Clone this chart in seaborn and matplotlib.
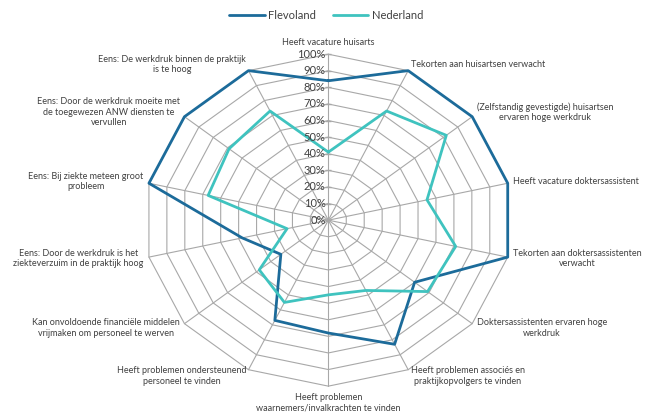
import numpy as np
import pandas as pd
import matplotlib.pyplot as plt
import seaborn as sns

# ---------------------------------------------------
# DATA
# ---------------------------------------------------

categories = [
    "Heeft vacature huisarts",
    "Tekorten aan huisartsen verwacht",
    "(Zelfstandig gevestigde) huisartsen\nervaren hoge werkdruk",
    "Heeft vacature doktersassistent",
    "Tekorten aan doktersassistenten\nverwacht",
    "Doktersassistenten ervaren hoge\nwerkdruk",
    "Heeft problemen associés en\npraktijkopvolgers te vinden",
    "Heeft problemen\nwaarnemers/invalkrachten te vinden",
    "Heeft problemen ondersteunend\npersoneel te vinden",
    "Kan onvoldoende financiële middelen\nvrijmaken om personeel te werven",
    "Eens: Door de werkdruk is het\nziekteverzuim in de praktijk hoog",
    "Eens: Bij ziekte meteen groot\nprobleem",
    "Eens: Door de werkdruk moeite met\nde toegewezen ANW diensten te\nvervullen",
    "Eens: De werkdruk binnen de praktijk\nis te hoog",
]

flevoland = [84, 100, 100, 100, 100, 60, 83, 68, 67, 33, 48, 100, 100, 100]
nederland = [41, 73, 82, 55, 71, 69, 47, 45, 55, 48, 23, 67, 69, 73]

series_names = ["Flevoland", "Nederland"]
tick_values = [0, 10, 20, 30, 40, 50, 60, 70, 80, 90, 100]
tick_labels = [f"{v}%" for v in tick_values]

# ---------------------------------------------------
# STYLE
# ---------------------------------------------------

sns.set_style("white")
plt.rcParams["font.family"] = ["Lato", "DejaVu Sans"]

colors = {"Flevoland": "#1C6B9A", "Nederland": "#3FC3BF"}
grid_color = "#A8A8A8"
text_color = "#404040"

n = len(categories)
angles = np.linspace(0, 2 * np.pi, n, endpoint=False)

rows = []
for name, values in zip(series_names, [flevoland, nederland]):
    for i in range(n + 1):
        rows.append({
            "angle": angles[i % n] if i < n else 2 * np.pi,
            "value": values[i % n],
            "series": name,
        })
df = pd.DataFrame(rows)

# ---------------------------------------------------
# RADAR CHART
# ---------------------------------------------------

fig = plt.figure(figsize=(6.56, 4.17), dpi=100)
ax = fig.add_axes([0.22, 0.074, 0.561, 0.796], projection="polar")
ax.set_aspect("auto")
ax.set_theta_zero_location("N")
ax.set_theta_direction(-1)

# polygon grid
closed = np.append(angles, angles[0])
for t in tick_values[1:]:
    ax.plot(closed, [t] * (n + 1), color=grid_color, lw=0.8,
            zorder=0, clip_on=False)
for a in angles:
    ax.plot([a, a], [0, 100], color=grid_color, lw=0.8,
            zorder=0, clip_on=False)

sns.lineplot(
    data=df,
    x="angle",
    y="value",
    hue="series",
    palette=colors,
    sort=False,
    estimator=None,
    linewidth=2.0,
    ax=ax,
)
for line in ax.get_lines():
    line.set_clip_on(False)

ax.set_ylim(0, 100)
ax.set_xticks([])
ax.set_yticks([])
ax.grid(False)
ax.spines["polar"].set_visible(False)
ax.set_xlabel("")
ax.set_ylabel("")

# value axis labels on the top spoke
ax.plot([0] * len(tick_values), tick_values, ls="none", marker="_",
        markersize=5, color=grid_color, clip_on=False)
for v, lab in zip(tick_values, tick_labels):
    ax.annotate(lab, xy=(0, v), xytext=(-2, 0), textcoords="offset points",
                ha="right", va="center", fontsize=8, color=text_color)

# category labels
for a, lab in zip(angles, categories):
    s, c = np.sin(a), np.cos(a)
    if s > 0.1:
        ha = "left"
    elif s < -0.1:
        ha = "right"
    else:
        ha = "center"
    if c > 0.95:
        va = "bottom"
    elif c < -0.95:
        va = "top"
    else:
        va = "center"
    ax.annotate(lab, xy=(a, 100), xytext=(4 * s, 5 * c),
                textcoords="offset points", ha=ha, va=va,
                multialignment="center", fontsize=6.5, color=text_color,
                annotation_clip=False)

sns.move_legend(
    ax, "upper center",
    bbox_to_anchor=(0.497, 1.0), bbox_transform=fig.transFigure,
    ncol=2, frameon=False, title=None, fontsize=8,
    handlelength=3.2, columnspacing=1.5, handletextpad=0.3,
)
for txt in ax.get_legend().get_texts():
    txt.set_color(text_color)

plt.savefig("out.png", dpi=100)
plt.close()
